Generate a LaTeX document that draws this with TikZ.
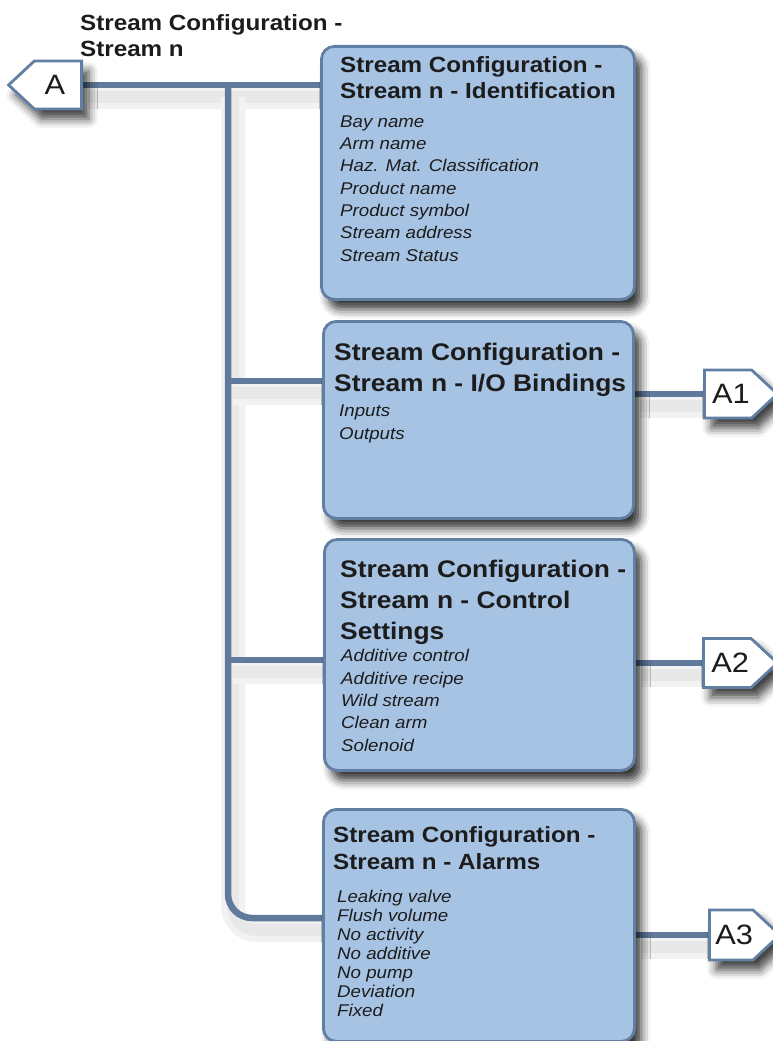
\documentclass[tikz,border=0pt]{standalone}
\usepackage{fontspec}
\setmainfont[FakeStretch=1.1]{Liberation Sans}
\usetikzlibrary{shapes.symbols,shadows.blur,backgrounds}

\definecolor{panelfill}{HTML}{A7C3E3}
\definecolor{paneledge}{HTML}{617FA3}
\definecolor{wireblue}{HTML}{607A9B}
\definecolor{inkgray}{HTML}{1C1C1C}

\tikzset{
  panel/.style={draw=paneledge, fill=panelfill, line width=2.8pt, rounded corners=13pt,
    anchor=north west, inner sep=0pt,
    blur shadow={shadow xshift=7pt, shadow yshift=-10pt, shadow blur radius=9pt, shadow opacity=80}},
  wire/.style={draw=wireblue, line width=6.5pt,
    preaction={draw=black!5, line width=24pt, transform canvas={xshift=5pt, yshift=-12pt}},
    preaction={draw=black!9, line width=12pt, transform canvas={xshift=5pt, yshift=-12pt}}},
  tag/.style={shape=signal, draw=paneledge, fill=white, line width=2.8pt, inner sep=0pt,
    minimum height=48pt, signal from=nowhere, signal pointer angle=86,
    font=\fontsize{28}{28}\selectfont, text=inkgray,
    blur shadow={shadow xshift=7pt, shadow yshift=-10pt, shadow blur radius=9pt, shadow opacity=75}},
  headline/.style={anchor=base west, align=left, inner sep=0pt, text=inkgray,
    font=\bfseries\fontsize{22}{26.5}\selectfont},
  bighead/.style={headline, font=\bfseries\fontsize{24}{31}\selectfont},
  itemlist/.style={anchor=base west, align=left, inner sep=0pt, text=inkgray,
    font=\itshape\fontsize{17}{22.3}\selectfont},
}

\begin{document}
\begin{tikzpicture}[x=1pt, y=-1pt]
\useasboundingbox (0,0) rectangle (773,1041);

% text nodes are placed by the baseline of their last line
\node[headline] (heading) at (80,57) {Stream Configuration -\\Stream n};

% the four panels
\node[panel, minimum width=313pt, minimum height=253pt] (ident) at (320,45) {};
\node[headline] (identhead) at (340,99) {Stream Configuration -\\Stream n - Identification};
\node[itemlist] (identlist) at (340,261) {Bay name\\Arm name\\Haz. Mat. Classification\\Product name\\Product symbol\\Stream address\\Stream Status};

\node[panel, minimum width=310pt, minimum height=197pt] (iobind) at (322,320) {};
\node[bighead] (iohead) at (334,391) {Stream Configuration -\\Stream n - I/O Bindings};
\node[itemlist] (iolist) at (339,439) {Inputs\\Outputs};

\node[panel, minimum width=310pt, minimum height=231pt] (ctrl) at (323,538) {};
\node[bighead] (ctrlhead) at (340,639) {Stream Configuration -\\Stream n - Control\\Settings};
\node[itemlist] (ctrllist) at (341,751) {Additive control\\Additive recipe\\Wild stream\\Clean arm\\Solenoid};

\node[panel, minimum width=311pt, minimum height=232pt] (alarm) at (322,808) {};
\node[headline] (alarmhead) at (333,869) {Stream Configuration -\\Stream n - Alarms};
\node[itemlist, font=\itshape\fontsize{17}{19}\selectfont] (alarmlist) at (337,1016) {Leaking valve\\Flush volume\\No activity\\No additive\\No pump\\Deviation\\Fixed};

% off-page tags
\node[tag, signal to=west, minimum width=73pt, anchor=east] (tA) at (83,85) {A\kern6pt};
\node[tag, signal to=east, minimum width=73pt, anchor=west] (tA1) at (703,394) {\kern6pt A1};
\node[tag, signal to=east, minimum width=74pt, minimum height=49pt, anchor=west] (tA2) at (702,663) {\kern6pt A2};
\node[tag, signal to=east, minimum width=68pt, minimum height=50pt, anchor=west] (tA3) at (708,935) {\kern6pt A3};

\coordinate (top) at (228,85);
\coordinate (b1) at (228,381);
\coordinate (b2) at (228,660);
\coordinate (b3) at (322,918);

\begin{scope}[on background layer]
  \draw[wire] (tA.east) -- (tA.east -| ident.west);
  \draw[wire, rounded corners=24pt] (top) |- (b3);
  \draw[wire] (b1) -- (b1 -| iobind.west);
  \draw[wire] (b2) -- (b2 -| ctrl.west);
  \draw[wire] (tA1.west) -- (tA1.west -| iobind.east);
  \draw[wire] (tA2.west) -- (tA2.west -| ctrl.east);
  \draw[wire] (tA3.west) -- (tA3.west -| alarm.east);
\end{scope}
\end{tikzpicture}
\end{document}
